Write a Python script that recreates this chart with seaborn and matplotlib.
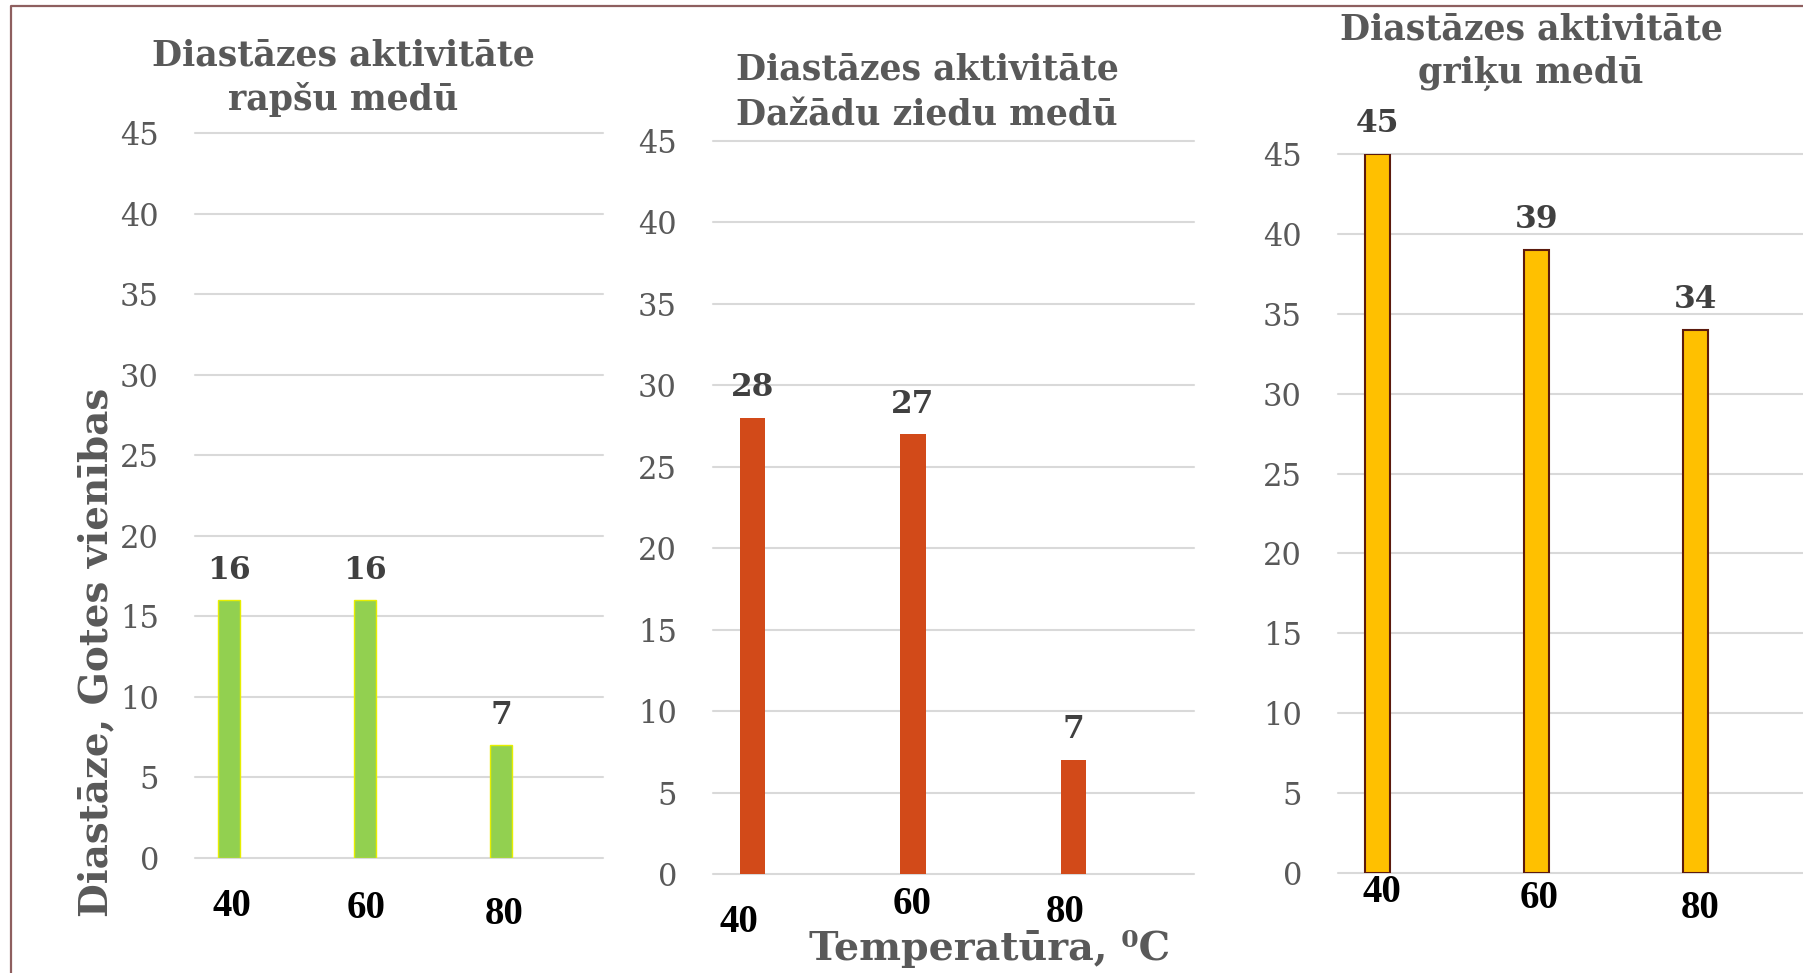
import matplotlib
matplotlib.use("Agg")
import matplotlib.pyplot as plt
import seaborn as sns
import pandas as pd
from matplotlib.transforms import ScaledTranslation
from matplotlib.lines import Line2D

# ---------------- data ----------------
temperatures = ["40", "60", "80"]
rapsu_values = [16, 16, 7]
dazadu_values = [28, 27, 7]
griku_values = [45, 39, 34]
title_line1 = ["Diastāzes aktivitāte", "Diastāzes aktivitāte", "Diastāzes aktivitāte"]
title_line2 = ["rapšu medū", "Dažādu ziedu medū", "griķu medū"]
y_ticks = [0, 5, 10, 15, 20, 25, 30, 35, 40, 45]
y_label = "Diastāze, Gotes vienības"
x_label = "Temperatūra, ⁰C"

# ---------------- style ----------------
W, H, DPI = 1803, 973, 100
sns.set_theme(style="white")
plt.rcParams['font.family'] = ['DejaVu Serif', 'DejaVu Sans']

GRAY = "#595959"
LABEL_GRAY = "#404040"

fig = plt.figure(figsize=(W / DPI, H / DPI), dpi=DPI)
fig.patch.set_facecolor("white")


def px_axes(x0, x1, y45, y0):
    return fig.add_axes([x0 / W, 1 - y0 / H, (x1 - x0) / W, (y0 - y45) / H])


panels = [
    dict(values=rapsu_values, box=(195, 603, 133, 858), xlim=(-0.247, 2.75),
         fill="#92D050", edge="#E6EE00", lw=1.0, title_x=343, title_y=(65, 110),
         tick_off=[(3, 49), (1, 50), (3, 57)]),
    dict(values=dazadu_values, box=(713, 1194, 141, 874), xlim=(-0.246, 2.75),
         fill="#D24A19", edge="none", lw=0, title_x=927, title_y=(80, 125),
         tick_off=[(-14, 49), (-1, 30), (-8, 38)]),
    dict(values=griku_values, box=(1338, 1815, 154, 873), xlim=(-0.25, 2.75),
         fill="#FFC000", edge="#5C1A0E", lw=1.5, title_x=1531, title_y=(39, 83),
         tick_off=[(4, 19), (2, 26), (4, 35)]),
]

for i, p in enumerate(panels):
    ax = px_axes(*p["box"])
    ax.set_facecolor("white")
    df = pd.DataFrame({"Temperatūra": temperatures, "Diastāze": p["values"]})
    sns.barplot(data=df, x="Temperatūra", y="Diastāze", ax=ax, color=p["fill"],
                saturation=1, width=0.16, edgecolor=p["edge"], linewidth=p["lw"],
                errorbar=None, zorder=3)
    ax.set_xlim(*p["xlim"])
    ax.set_ylim(0, 45)
    ax.set_xlabel("")
    ax.set_ylabel("")
    for s in ax.spines.values():
        s.set_visible(False)
    ax.set_yticks(y_ticks)
    ax.yaxis.grid(True, color="#D9D9D9", linewidth=1.5, zorder=0)
    ax.xaxis.grid(False)
    ax.set_axisbelow(True)
    for gl in ax.get_ygridlines():
        gl.set_clip_on(False)
    ax.tick_params(axis="y", length=0, pad=26, labelsize=22, labelcolor=GRAY)

    ax.set_xticks(range(len(temperatures)))
    ax.set_xticklabels(temperatures, fontfamily="Liberation Serif", fontweight="bold",
                       fontsize=28, color="black")
    ax.tick_params(axis="x", length=0, pad=0)
    for lab, (dx, dy) in zip(ax.get_xticklabels(), p["tick_off"]):
        lab.set_va("center")
        lab.set_transform(lab.get_transform() +
                          ScaledTranslation(dx / DPI, -dy / DPI, fig.dpi_scale_trans))

    ax.bar_label(ax.containers[0], labels=[str(v) for v in p["values"]], padding=10.5,
                 fontsize=22.5, fontweight="bold", color=LABEL_GRAY)

    fig.text(p["title_x"] / W, 1 - p["title_y"][0] / H, title_line1[i], ha="center",
             va="baseline", fontsize=25, fontweight="bold", color=GRAY)
    fig.text(p["title_x"] / W, 1 - p["title_y"][1] / H, title_line2[i], ha="center",
             va="baseline", fontsize=25, fontweight="bold", color=GRAY)

fig.text(96 / W, 1 - 652 / H, y_label, rotation=90, ha="center", va="center",
         fontsize=28, fontweight="bold", color=GRAY)
fig.text(990 / W, 1 - 960 / H, x_label, ha="center", va="baseline",
         fontsize=28.5, fontweight="bold", color=GRAY)

# slide frame (top and left edges)
fig.add_artist(Line2D([11 / W, 11 / W, 1.0], [0.0, 1 - 5.7 / H, 1 - 5.7 / H],
                      transform=fig.transFigure, color="#8E5F5F", linewidth=1.6))

fig.savefig("out.png", dpi=DPI, facecolor="white")
